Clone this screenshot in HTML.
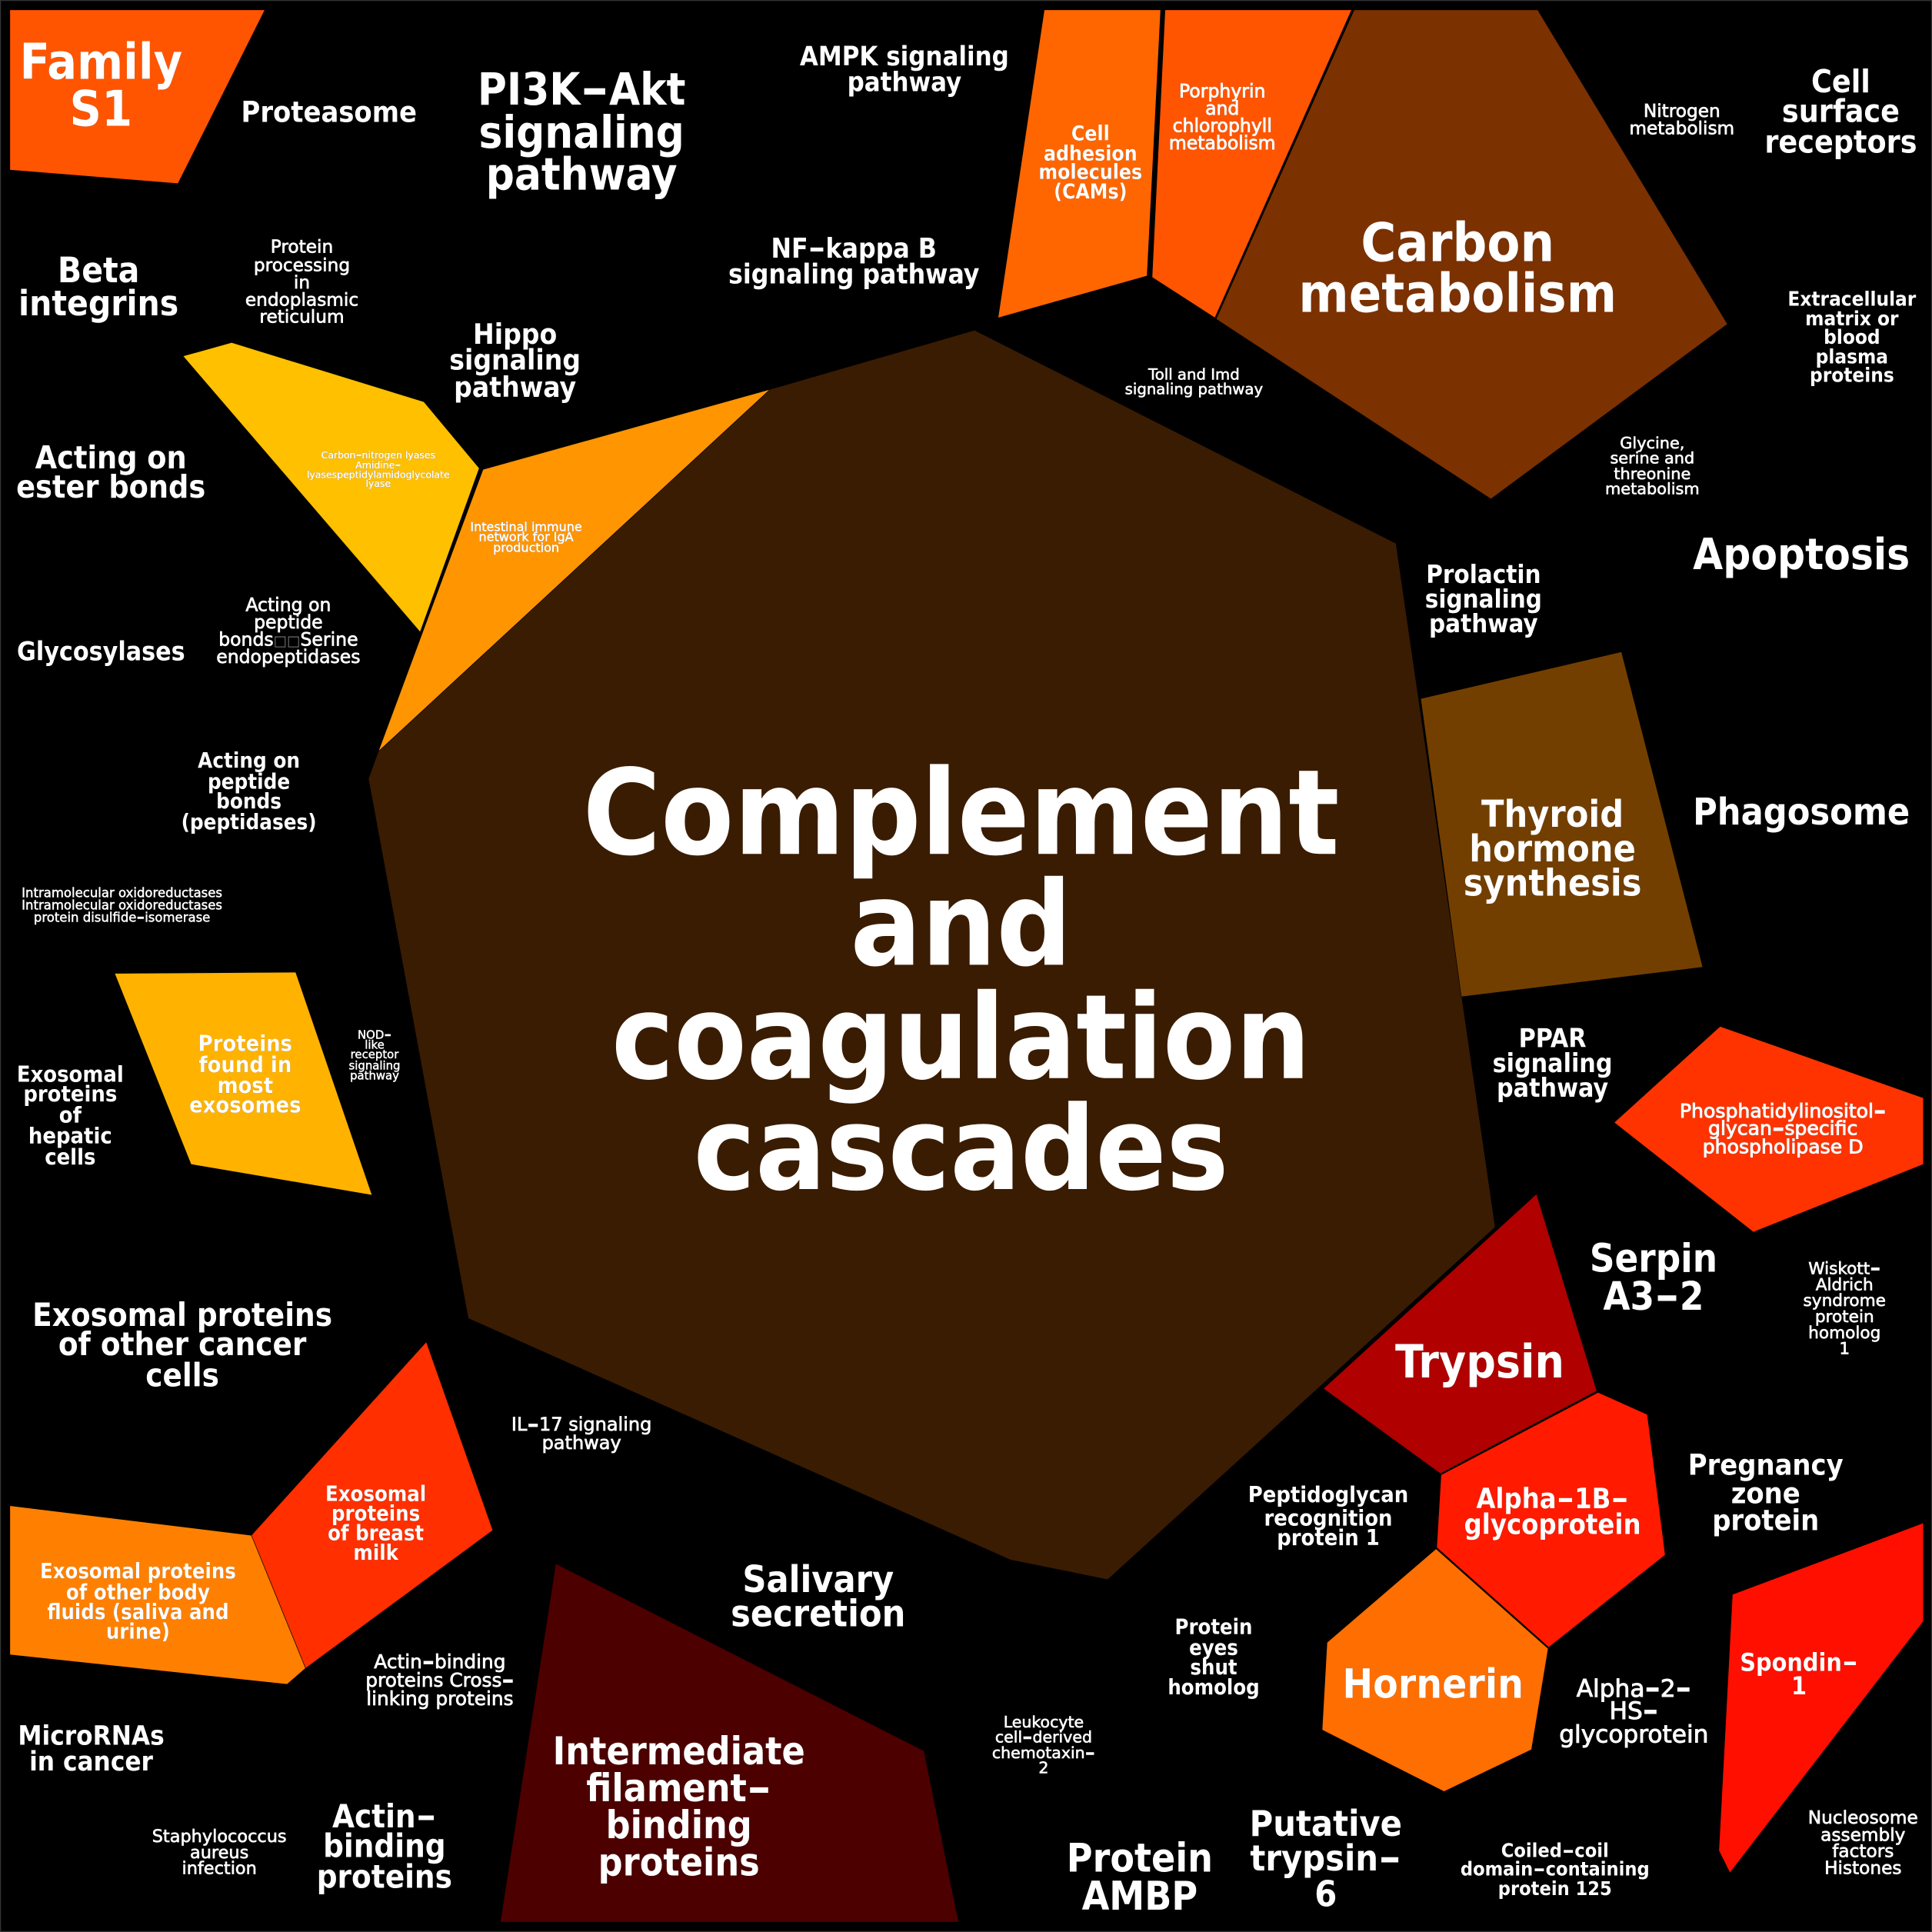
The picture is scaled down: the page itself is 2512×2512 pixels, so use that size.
<!DOCTYPE html>
<html><head><meta charset="utf-8"><title>Complement and coagulation cascades</title>
<style>
html,body{margin:0;padding:0;background:#000}
svg{display:block;width:2512px;height:2512px}
text{font-family:"DejaVu Sans","Liberation Sans",sans-serif;font-weight:700;font-stretch:condensed;fill:#fff;text-anchor:middle}
text.r{font-weight:400;font-stretch:normal;stroke:#fff;stroke-width:.03em}
text.s.r{stroke-width:.04em}
.s{filter:drop-shadow(.7px .7px 0 #000)}
.h{font-size:1.8em;font-weight:400;font-stretch:normal;letter-spacing:0;baseline-shift:-.11em}
polygon{stroke:#000;stroke-width:.4}
</style></head><body>
<svg xmlns="http://www.w3.org/2000/svg" viewBox="0 0 1568 1568">
<rect width="1568" height="1568" fill="#000"/>
<rect x=".4" y=".4" width="1567.2" height="1567.2" fill="none" stroke="#333" stroke-width=".8"/>
<polygon fill="#3a1c02" points="791,268 1133,441 1213.5,996 899,1282 820,1266 380,1070 299,632 307,610 625,316"/>
<polygon fill="#ff5500" points="8,8 215,8 144.500,149 8,138"/>
<polygon fill="#ff6600" points="847.500,8 942,8 931,224 810,258"/>
<polygon fill="#ff5500" points="945.500,8 1097,8 986,258 935,225"/>
<polygon fill="#7c3100" points="1099,8 1248,8 1402,263 1210,405 987,259"/>
<polygon fill="#733f00" points="1153,567 1316,529 1382,785 1186,809"/>
<polygon fill="#ff3300" points="1310,911 1396,833 1561,891 1561,945 1423,1000"/>
<polygon fill="#b00000" points="1247,969 1296,1129 1169,1196 1074,1127"/>
<polygon fill="#ff1a00" points="1297,1130 1337,1148 1351.500,1262 1257,1337 1166,1256 1169.500,1197"/>
<polygon fill="#ff6e00" points="1165.500,1257 1256.500,1338 1243,1420 1172,1454 1073,1404 1077,1333"/>
<polygon fill="#ff0f00" points="1406,1294 1561,1236 1561,1316 1404,1520 1395,1502"/>
<polygon fill="#4c0000" points="451,1269 750,1421 778,1560 406,1560"/>
<polygon fill="#ff2f00" points="346,1089 400,1242 248,1354 204,1246"/>
<polygon fill="#ff8000" points="8,1222 204,1246 248,1354 233,1367 8,1343"/>
<polygon fill="#ffb300" points="93,790 240,789 302,970 155,945"/>
<polygon fill="#ffc000" points="148.500,289 188,278 344,326 389,380 341,513"/>
<polygon fill="#ff9500" points="392,381 625,316 307,610"/>

<text font-size="96"><tspan x="780" y="693">Complement</tspan><tspan x="780" y="783" font-size="95">and</tspan><tspan x="780" y="875" font-size="95.300">coagulation</tspan><tspan x="780" y="965" font-size="94.300">cascades</tspan></text>
<text class="s" font-size="40"><tspan x="82" y="64">Family</tspan><tspan x="82" y="102">S1</tspan></text>
<text font-size="23.500"><tspan x="267" y="99">Proteasome</tspan></text>
<text font-size="36"><tspan x="472" y="85">PI3K<tspan class="h">-</tspan>Akt</tspan><tspan x="472" y="120">signaling</tspan><tspan x="472" y="154">pathway</tspan></text>
<text font-size="21.500"><tspan x="734" y="53">AMPK signaling</tspan><tspan x="734" y="74">pathway</tspan></text>
<text class="s" font-size="16.500"><tspan x="885" y="114">Cell</tspan><tspan x="885" y="130">adhesion</tspan><tspan x="885" y="145">molecules</tspan><tspan x="885" y="161">(CAMs)</tspan></text>
<text class="s r" font-size="14.700"><tspan x="992" y="79">Porphyrin</tspan><tspan x="992" y="93">and</tspan><tspan x="992" y="107">chlorophyll</tspan><tspan x="992" y="121">metabolism</tspan></text>
<text class="s" font-size="43.500"><tspan x="1183" y="212">Carbon</tspan><tspan x="1183" y="253">metabolism</tspan></text>
<text class="r" font-size="14.500"><tspan x="1365" y="95">Nitrogen</tspan><tspan x="1365" y="109">metabolism</tspan></text>
<text font-size="25.400"><tspan x="1494" y="75">Cell</tspan><tspan x="1494" y="99">surface</tspan><tspan x="1494" y="124">receptors</tspan></text>
<text font-size="28.500"><tspan x="80" y="229">Beta</tspan><tspan x="80" y="256">integrins</tspan></text>
<text class="r" font-size="14.500"><tspan x="245" y="205">Protein</tspan><tspan x="245" y="220">processing</tspan><tspan x="245" y="234">in</tspan><tspan x="245" y="248">endoplasmic</tspan><tspan x="245" y="262">reticulum</tspan></text>
<text font-size="22"><tspan x="693" y="209">NF<tspan class="h">-</tspan>kappa B</tspan><tspan x="693" y="230">signaling pathway</tspan></text>
<text font-size="23"><tspan x="418" y="279">Hippo</tspan><tspan x="418" y="300">signaling</tspan><tspan x="418" y="322">pathway</tspan></text>
<text class="r" font-size="12.300"><tspan x="969" y="308">Toll and Imd</tspan><tspan x="969" y="320">signaling pathway</tspan></text>
<text font-size="16.200"><tspan x="1503" y="248">Extracellular</tspan><tspan x="1503" y="264">matrix or</tspan><tspan x="1503" y="279">blood</tspan><tspan x="1503" y="295">plasma</tspan><tspan x="1503" y="310">proteins</tspan></text>
<text class="r" font-size="13"><tspan x="1341" y="364">Glycine,</tspan><tspan x="1341" y="376">serine and</tspan><tspan x="1341" y="389">threonine</tspan><tspan x="1341" y="401">metabolism</tspan></text>
<text font-size="25.500"><tspan x="90" y="380">Acting on</tspan><tspan x="90" y="404">ester bonds</tspan></text>
<text class="s r" font-size="7.800"><tspan x="307" y="372">Carbon<tspan class="h">-</tspan>nitrogen lyases</tspan><tspan x="307" y="380">Amidine<tspan class="h">-</tspan></tspan><tspan x="307" y="388">lyasespeptidylamidoglycolate</tspan><tspan x="307" y="395">lyase</tspan></text>
<text class="s r" font-size="10"><tspan x="427" y="431">Intestinal immune</tspan><tspan x="427" y="439">network for IgA</tspan><tspan x="427" y="448">production</tspan></text>
<text class="r" font-size="14.700"><tspan x="234" y="496">Acting on</tspan><tspan x="234" y="510">peptide</tspan><tspan x="234" y="524">bonds<tspan fill="#777" stroke="none" font-size="11.500">□□</tspan>Serine</tspan><tspan x="234" y="538">endopeptidases</tspan></text>
<text font-size="35"><tspan x="1462" y="462">Apoptosis</tspan></text>
<text font-size="20.500"><tspan x="1204" y="473">Prolactin</tspan><tspan x="1204" y="493">signaling</tspan><tspan x="1204" y="513">pathway</tspan></text>
<text class="s" font-size="30"><tspan x="1260" y="671">Thyroid</tspan><tspan x="1260" y="699">hormone</tspan><tspan x="1260" y="727">synthesis</tspan></text>
<text font-size="30"><tspan x="1462" y="669">Phagosome</tspan></text>
<text font-size="21"><tspan x="82" y="536">Glycosylases</tspan></text>
<text font-size="17.200"><tspan x="202" y="623">Acting on</tspan><tspan x="202" y="640">peptide</tspan><tspan x="202" y="656">bonds</tspan><tspan x="202" y="673">(peptidases)</tspan></text>
<text class="r" font-size="10.300"><tspan x="99" y="728">Intramolecular oxidoreductases</tspan><tspan x="99" y="738">Intramolecular oxidoreductases</tspan><tspan x="99" y="748">protein disulfide<tspan class="h">-</tspan>isomerase</tspan></text>
<text class="s" font-size="18"><tspan x="199" y="853">Proteins</tspan><tspan x="199" y="870">found in</tspan><tspan x="199" y="887">most</tspan><tspan x="199" y="903">exosomes</tspan></text>
<text class="r" font-size="9.300"><tspan x="304" y="843">NOD<tspan class="h">-</tspan></tspan><tspan x="304" y="851">like</tspan><tspan x="304" y="859">receptor</tspan><tspan x="304" y="868">signaling</tspan><tspan x="304" y="876">pathway</tspan></text>
<text font-size="18"><tspan x="57" y="878">Exosomal</tspan><tspan x="57" y="894">proteins</tspan><tspan x="57" y="911">of</tspan><tspan x="57" y="928">hepatic</tspan><tspan x="57" y="945">cells</tspan></text>
<text font-size="21"><tspan x="1260" y="850">PPAR</tspan><tspan x="1260" y="870">signaling</tspan><tspan x="1260" y="890">pathway</tspan></text>
<text class="s r" font-size="15.700"><tspan x="1447" y="907">Phosphatidylinositol<tspan class="h">-</tspan></tspan><tspan x="1447" y="921">glycan<tspan class="h">-</tspan>specific</tspan><tspan x="1447" y="936">phospholipase D</tspan></text>
<text font-size="31.500"><tspan x="1342" y="1032">Serpin</tspan><tspan x="1342" y="1063">A3<tspan class="h">-</tspan>2</tspan></text>
<text class="r" font-size="13.500"><tspan x="1497" y="1034">Wiskott<tspan class="h">-</tspan></tspan><tspan x="1497" y="1047">Aldrich</tspan><tspan x="1497" y="1060">syndrome</tspan><tspan x="1497" y="1073">protein</tspan><tspan x="1497" y="1086">homolog</tspan><tspan x="1497" y="1099">1</tspan></text>
<text class="s" font-size="37.500"><tspan x="1201" y="1118">Trypsin</tspan></text>
<text font-size="26"><tspan x="148" y="1076">Exosomal proteins</tspan><tspan x="148" y="1100">of other cancer</tspan><tspan x="148" y="1125">cells</tspan></text>
<text class="r" font-size="15"><tspan x="472" y="1161">IL<tspan class="h">-</tspan>17 signaling</tspan><tspan x="472" y="1176">pathway</tspan></text>
<text font-size="18"><tspan x="1078" y="1219">Peptidoglycan</tspan><tspan x="1078" y="1238">recognition</tspan><tspan x="1078" y="1254">protein 1</tspan></text>
<text class="s" font-size="22.500"><tspan x="1260" y="1224">Alpha<tspan class="h">-</tspan>1B<tspan class="h">-</tspan></tspan><tspan x="1260" y="1245">glycoprotein</tspan></text>
<text font-size="23.500"><tspan x="1433" y="1197">Pregnancy</tspan><tspan x="1433" y="1220">zone</tspan><tspan x="1433" y="1242">protein</tspan></text>
<text class="s" font-size="17"><tspan x="305" y="1218">Exosomal</tspan><tspan x="305" y="1234">proteins</tspan><tspan x="305" y="1250">of breast</tspan><tspan x="305" y="1266">milk</tspan></text>
<text class="s" font-size="17"><tspan x="112" y="1281">Exosomal proteins</tspan><tspan x="112" y="1298">of other body</tspan><tspan x="112" y="1314">fluids (saliva and</tspan><tspan x="112" y="1330">urine)</tspan></text>
<text font-size="30"><tspan x="664" y="1292">Salivary</tspan><tspan x="664" y="1320">secretion</tspan></text>
<text font-size="17"><tspan x="985" y="1326">Protein</tspan><tspan x="985" y="1343">eyes</tspan><tspan x="985" y="1359">shut</tspan><tspan x="985" y="1375">homolog</tspan></text>
<text class="r" font-size="15.500"><tspan x="357" y="1354">Actin<tspan class="h">-</tspan>binding</tspan><tspan x="357" y="1369">proteins Cross<tspan class="h">-</tspan></tspan><tspan x="357" y="1384">linking proteins</tspan></text>
<text class="r" font-size="19.500"><tspan x="1326" y="1377">Alpha<tspan class="h">-</tspan>2<tspan class="h">-</tspan></tspan><tspan x="1326" y="1395">HS<tspan class="h">-</tspan></tspan><tspan x="1326" y="1414">glycoprotein</tspan></text>
<text class="s" font-size="20"><tspan x="1460" y="1356">Spondin<tspan class="h">-</tspan></tspan><tspan x="1460" y="1375">1</tspan></text>
<text class="s" font-size="33"><tspan x="1163" y="1378">Hornerin</tspan></text>
<text font-size="21.700"><tspan x="74" y="1416">MicroRNAs</tspan><tspan x="74" y="1437">in cancer</tspan></text>
<text class="r" font-size="12.800"><tspan x="847" y="1402">Leukocyte</tspan><tspan x="847" y="1414">cell<tspan class="h">-</tspan>derived</tspan><tspan x="847" y="1427">chemotaxin<tspan class="h">-</tspan></tspan><tspan x="847" y="1439">2</tspan></text>
<text class="s" font-size="31"><tspan x="551" y="1432">Intermediate</tspan><tspan x="551" y="1462">filament<tspan class="h">-</tspan></tspan><tspan x="551" y="1492">binding</tspan><tspan x="551" y="1522">proteins</tspan></text>
<text font-size="26"><tspan x="312" y="1483">Actin<tspan class="h">-</tspan></tspan><tspan x="312" y="1507">binding</tspan><tspan x="312" y="1532">proteins</tspan></text>
<text class="r" font-size="14"><tspan x="178" y="1495">Staphylococcus</tspan><tspan x="178" y="1508">aureus</tspan><tspan x="178" y="1521">infection</tspan></text>
<text font-size="32"><tspan x="925" y="1519">Protein</tspan><tspan x="925" y="1550">AMBP</tspan></text>
<text font-size="29"><tspan x="1076" y="1490">Putative</tspan><tspan x="1076" y="1518">trypsin<tspan class="h">-</tspan></tspan><tspan x="1076" y="1547">6</tspan></text>
<text font-size="15.700"><tspan x="1262" y="1507">Coiled<tspan class="h">-</tspan>coil</tspan><tspan x="1262" y="1522">domain<tspan class="h">-</tspan>containing</tspan><tspan x="1262" y="1538">protein 125</tspan></text>
<text class="r" font-size="14.500"><tspan x="1512" y="1480">Nucleosome</tspan><tspan x="1512" y="1494">assembly</tspan><tspan x="1512" y="1507">factors</tspan><tspan x="1512" y="1521">Histones</tspan></text>
</svg>
</body></html>
